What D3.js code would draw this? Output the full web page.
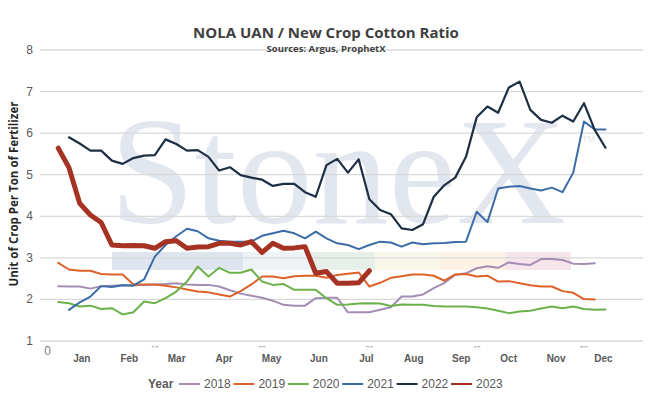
<!DOCTYPE html>
<html><head><meta charset="utf-8">
<script src="https://cdn.jsdelivr.net/npm/d3@7"></script>
<style>html,body{margin:0;padding:0;background:#fff;}svg{display:block;}</style>
</head><body><svg id="c" width="661" height="414"></svg>
<script>
const title = "NOLA UAN / New Crop Cotton Ratio";
const subtitle = "Sources: Argus, ProphetX";
const yAxisTitle = "Unit of Crop Per Ton of Fertilizer";
const months = ["Jan","Feb","Mar","Apr","May","Jun","Jul","Aug","Sep","Oct","Nov","Dec"];
const xTicks = [0,10,20,30,40,50];
const yTicks = [1,2,3,4,5,6,7,8];
const years = ["2018","2019","2020","2021","2022","2023"];
const startWeeks = [1,1,1,2,2,1];
const v2018 = [2.32,2.31,2.31,2.26,2.32,2.33,2.34,2.34,2.35,2.36,2.37,2.39,2.36,2.35,
 2.35,2.31,2.22,2.14,2.09,2.04,1.97,1.87,1.85,1.85,2.03,2.04,2.04,1.69,1.69,1.69,1.75,1.81,2.07,2.07,2.12,2.27,2.40,
 2.59,2.63,2.75,2.80,2.76,2.89,2.85,2.83,2.97,2.97,2.95,2.86,2.85,2.87];
const v2019 = [2.88,2.72,2.69,2.69,2.61,2.60,2.60,2.36,2.36,2.36,2.33,2.29,2.24,2.19,
 2.17,2.12,2.07,2.20,2.36,2.55,2.55,2.51,2.56,2.57,2.57,2.52,2.59,2.62,2.65,2.31,2.40,2.52,2.56,2.60,2.60,2.57,2.45,2.60,2.61,2.55,2.57,2.43,
 2.44,2.39,2.34,2.31,2.31,2.20,2.16,2.01,2.00];
const v2020 = [1.94,1.91,1.83,1.85,1.77,1.79,1.64,1.69,1.95,1.91,2.03,2.19,2.43,2.79,
 2.55,2.76,2.64,2.64,2.72,2.43,2.35,2.37,2.23,2.23,2.23,2.03,1.87,1.88,1.90,1.91,1.90,1.84,1.88,1.87,1.87,1.84,1.83,
 1.83,1.83,1.81,1.78,1.73,1.67,1.71,1.73,1.78,1.83,1.79,1.83,1.77,1.75,1.76];
const v2021 = [1.75,1.93,2.07,2.32,2.30,2.34,2.33,2.48,3.03,3.31,3.52,3.70,3.64,
 3.47,3.41,3.39,3.39,3.39,3.53,3.59,3.65,3.59,3.47,3.63,3.47,3.35,3.31,3.21,3.31,3.39,3.37,3.27,3.37,3.33,3.35,3.36,3.38,3.39,
 4.11,3.86,4.67,4.71,4.73,4.67,4.62,4.69,4.58,5.05,6.28,6.09,6.09];
const v2022 = [5.90,5.75,5.58,5.58,5.34,5.26,5.40,5.46,5.47,5.85,5.74,5.58,5.59,
 5.43,5.10,5.18,4.99,4.93,4.88,4.73,4.78,4.78,4.58,4.47,5.23,5.38,5.05,5.37,4.41,4.15,4.05,3.71,3.67,3.81,
 4.47,4.75,4.93,5.43,6.38,6.64,6.49,7.10,7.24,6.56,6.32,6.25,6.42,6.28,6.72,6.08,5.65];
const v2023 = [5.64,5.17,4.31,4.03,3.85,3.31,3.29,3.30,3.29,3.23,3.39,3.41,3.23,3.26,3.27,3.35,3.35,3.31,3.39,3.13,
 3.35,3.23,3.24,3.27,2.63,2.67,2.39,2.39,2.40,2.69];
const seriesValues = [v2018,v2019,v2020,v2021,v2022,v2023];

const colors = ["#a38db3","#dc6229","#6cb14a","#3c6ca8","#1e2e44","#a53222"];
const widths = [2,2,2,2,2.2,5];

const svg = d3.select("#c");
const x = d3.scaleLinear().domain([-0.7,55.5]).range([40,643]);
const y = d3.scaleLinear().domain([1,8]).range([341,50]);

const defs = svg.append("defs");
defs.append("clipPath").attr("id","tickclip").append("rect")
  .attr("x",0).attr("y",0).attr("width",661).attr("height",347.5);

// watermark
const wm = svg.append("g");
const bands = [[112,243,"#dfe5ee"],[243,310,"#edf2f7"],[310,375,"#e7efe9"],[375,440,"#faf8eb"],[440,505,"#fcf2e6"],[505,571,"#f6e5ea"]];
bands.forEach(b=>wm.append("rect").attr("x",b[0]).attr("y",252).attr("width",b[1]-b[0]).attr("height",18).attr("fill",b[2]));
wm.append("text").attr("x",110).attr("y",223).attr("font-family","Liberation Serif, serif")
  .attr("font-size",152).attr("fill","#e2e7ef").text("StoneX");
wm.append("text").attr("x",582).attr("y",142).attr("font-family","Liberation Sans, sans-serif")
  .attr("font-size",9).attr("fill","#e2e7ef").text("TM");

// grid
svg.append("g").selectAll("line").data(yTicks).join("line")
  .attr("x1",40).attr("x2",643).attr("y1",d=>y(d)).attr("y2",d=>y(d))
  .attr("stroke","#d9d9d9").attr("stroke-width",1.3);
svg.append("g").selectAll("text").data(yTicks).join("text")
  .attr("x",33).attr("y",d=>y(d)+4).attr("text-anchor","end")
  .attr("font-family","Liberation Sans, sans-serif").attr("font-size",12).attr("fill","#595959").text(d=>d);

// x numeric ticks: "0" visible, the rest hidden behind the month axis band
svg.append("text").attr("x",x(xTicks[0])).attr("y",y(1)+14).attr("text-anchor","middle")
  .attr("font-family","Liberation Sans, sans-serif").attr("font-size",12).attr("fill","#7f7f7f").text(xTicks[0]);
svg.append("g").attr("clip-path","url(#tickclip)").selectAll("text").data(xTicks.slice(1)).join("text")
  .attr("x",d=>x(d)).attr("y",351).attr("text-anchor","middle")
  .attr("font-family","Liberation Sans, sans-serif").attr("font-size",7).attr("fill","#7f7f7f").text(d=>d);
svg.append("g").selectAll("text").data(months).join("text")
  .attr("x",(d,i)=>x(3.2+i*4.42)).attr("y",362).attr("text-anchor","middle")
  .attr("font-family","Liberation Sans, sans-serif").attr("font-size",10).attr("font-weight","bold")
  .attr("fill","#595959").text(d=>d);

// lines
const line = d3.line().x(d=>x(d[0])).y(d=>y(d[1])).curve(d3.curveLinear);
seriesValues.forEach((vals,i)=>{
  const pts = vals.map((v,j)=>[startWeeks[i]+j, v]);
  svg.append("path").datum(pts).attr("d",line).attr("fill","none")
    .attr("stroke",colors[i]).attr("stroke-width",widths[i]).attr("stroke-linejoin","round").attr("stroke-linecap","round");
});

// titles
svg.append("text").attr("x",326).attr("y",38).attr("text-anchor","middle")
  .attr("font-family","Open Sans, sans-serif").attr("font-weight","bold").attr("font-size",15)
  .attr("fill","#404040").text(title);
svg.append("text").attr("x",326).attr("y",52).attr("text-anchor","middle")
  .attr("font-family","Open Sans, sans-serif").attr("font-weight","bold").attr("font-size",9.5)
  .attr("fill","#404040").text(subtitle);
svg.append("text").attr("transform","translate(18,194) rotate(-90)").attr("text-anchor","middle")
  .attr("font-family","Open Sans, sans-serif").attr("font-weight","bold").attr("font-size",11.5)
  .attr("fill","#262626").text(yAxisTitle);

// legend
const lg = svg.append("g");
lg.append("text").attr("x",148).attr("y",388).attr("font-family","Liberation Sans, sans-serif")
  .attr("font-weight","bold").attr("font-size",12).attr("fill","#595959").text("Year");
years.forEach((yr,i)=>{
  const x0 = 179 + i*54.4;
  lg.append("line").attr("x1",x0).attr("x2",x0+21).attr("y1",384).attr("y2",384)
    .attr("stroke",colors[i]).attr("stroke-width",2);
  lg.append("text").attr("x",x0+25).attr("y",388).attr("font-family","Liberation Sans, sans-serif")
    .attr("font-size",12).attr("fill","#595959").text(yr);
});
</script></body></html>
